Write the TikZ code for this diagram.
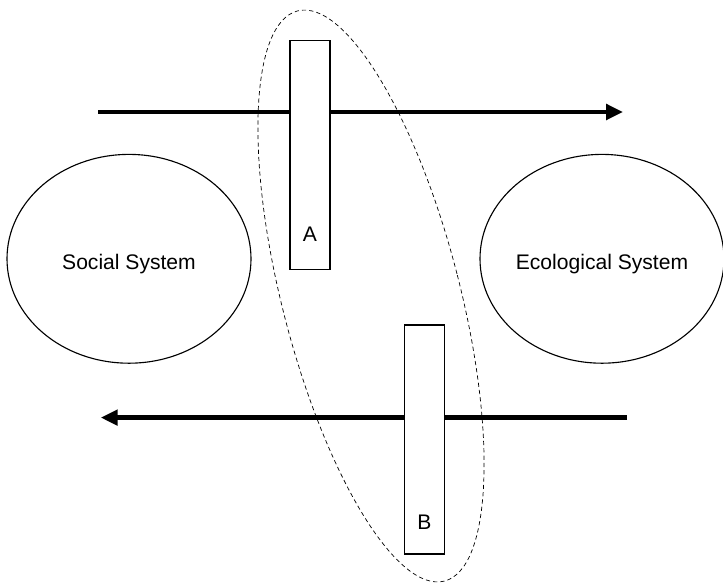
\documentclass[tikz,border=0pt]{standalone}
\usepackage{fontspec}
\setmainfont{Liberation Sans}
\usetikzlibrary{shapes.geometric,arrows.meta}
\tikzset{
  sysellipse/.style={draw,ellipse,line width=0.8pt,minimum width=6.1cm,minimum height=5.22cm,inner sep=0pt},
  barbox/.style={draw,fill=white,line width=0.9pt,minimum width=1cm,minimum height=5.72cm,inner sep=0pt},
  flowarrow/.style={line width=3.4pt,-{Triangle[length=0.42cm,width=0.38cm]}},
  lbl/.style={font=\fontsize{15}{18}\selectfont}
}
\begin{document}
\begin{tikzpicture}
\useasboundingbox (0,0) rectangle (18.075,14.6);
\node[sysellipse] (social) at (3.225,8.13) {};
\node[sysellipse] (eco) at (15.05,8.13) {};
\node[lbl] (socialtxt) at ([yshift=-0.13cm]social.center) {Social System};
\node[lbl] (ecotxt) at ([yshift=-0.13cm]eco.center) {Ecological System};
\coordinate (topL) at (2.45,11.8);
\coordinate (topR) at (15.575,11.8);
\coordinate (botR) at (15.675,4.16);
\coordinate (botL) at (2.52,4.16);
\draw[flowarrow] (topL)--(topR);
\draw[flowarrow] (botR)--(botL);
\node[barbox] (barA) at (7.75,10.725) {};
\node[barbox] (barB) at (10.61,3.6125) {};
\node[lbl] (labA) at ([yshift=0.89cm]barA.south) {A};
\node[lbl] (labB) at ([yshift=0.81cm]barB.south) {B};
\node[draw,ellipse,dash pattern=on 3pt off 2.2pt,line width=0.5pt,rotate=14.45,minimum width=4.44cm,minimum height=14.72cm,inner sep=0pt] (bridge) at (9.275,7.2) {};
\end{tikzpicture}
\end{document}
